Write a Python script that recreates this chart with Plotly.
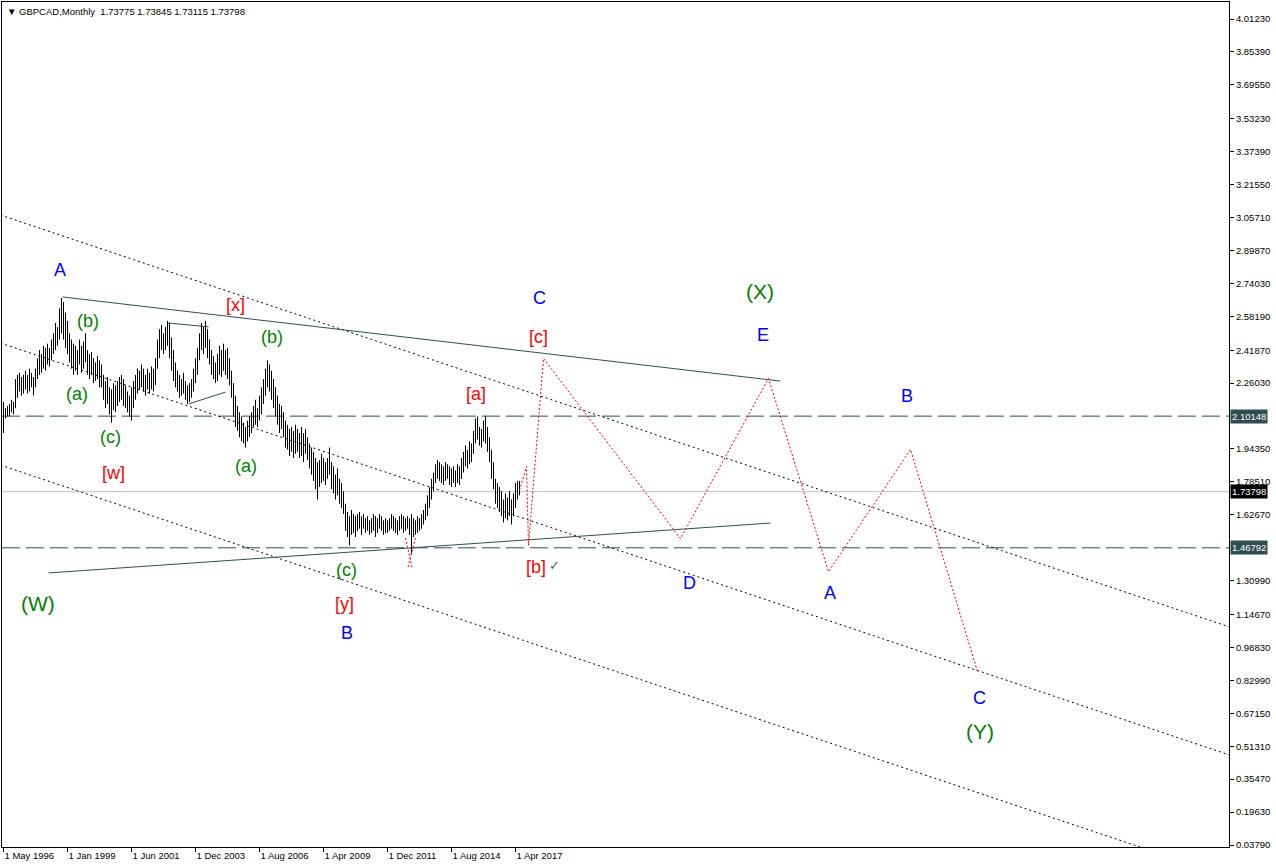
import plotly.graph_objects as go

# ---------------- data ----------------
tick_idx = [0, 32, 64, 96, 128, 160, 192, 224, 256]
tick_text = ["1 May 1996", "1 Jan 1999", "1 Jun 2001", "1 Dec 2003", "1 Aug 2006",
             "1 Apr 2009", "1 Dec 2011", "1 Aug 2014", "1 Apr 2017"]

highs = [
    2.17, 2.14, 2.15, 2.16, 2.18, 2.17, 2.28, 2.30, 2.31, 2.29,
    2.30, 2.32, 2.30, 2.33, 2.31, 2.29, 2.33, 2.38, 2.42, 2.40,
    2.44, 2.43, 2.45, 2.43, 2.47, 2.50, 2.55, 2.53, 2.62, 2.67,
    2.65, 2.60, 2.56, 2.50, 2.47, 2.45, 2.44, 2.42, 2.47, 2.44,
    2.46, 2.50, 2.42, 2.40, 2.41, 2.38, 2.36, 2.39, 2.37, 2.35,
    2.30, 2.27, 2.29, 2.24, 2.23, 2.26, 2.25, 2.27, 2.29, 2.30,
    2.28, 2.25, 2.22, 2.20, 2.24, 2.27, 2.30, 2.33, 2.32, 2.35,
    2.33, 2.30, 2.33, 2.31, 2.34, 2.33, 2.38, 2.47, 2.52, 2.54,
    2.50, 2.53, 2.56, 2.55, 2.48, 2.42, 2.36, 2.32, 2.30, 2.28,
    2.31, 2.27, 2.25, 2.26, 2.28, 2.33, 2.38, 2.43, 2.50, 2.55,
    2.53, 2.56, 2.52, 2.47, 2.42, 2.39, 2.36, 2.40, 2.44, 2.42,
    2.45, 2.42, 2.43, 2.38, 2.32, 2.26, 2.20, 2.15, 2.12, 2.10,
    2.07, 2.05, 2.08, 2.10, 2.12, 2.15, 2.18, 2.14, 2.20, 2.24,
    2.28, 2.33, 2.37, 2.35, 2.32, 2.28, 2.24, 2.20, 2.16, 2.15,
    2.12, 2.08, 2.06, 2.04, 2.05, 2.03, 2.06, 2.04, 2.02, 2.05,
    2.02, 2.04, 2.00, 1.97, 1.95, 1.93, 1.90, 1.88, 1.89, 1.92,
    1.90, 1.88, 1.90, 1.95, 1.88, 1.86, 1.82, 1.85, 1.80, 1.78,
    1.74, 1.68, 1.64, 1.62, 1.65, 1.63, 1.62, 1.63, 1.64, 1.62,
    1.63, 1.61, 1.62, 1.60, 1.61, 1.63, 1.62, 1.61, 1.63, 1.62,
    1.60, 1.61, 1.60, 1.61, 1.63, 1.62, 1.61, 1.60, 1.62, 1.63,
    1.62, 1.61, 1.62, 1.61, 1.63, 1.61, 1.60, 1.62, 1.61, 1.63,
    1.65, 1.68, 1.72, 1.76, 1.80, 1.83, 1.87, 1.89, 1.88, 1.87,
    1.86, 1.88, 1.87, 1.86, 1.85, 1.86, 1.84, 1.87, 1.86, 1.90,
    1.93, 1.96, 1.94, 1.98, 1.97, 2.03, 2.09, 2.10, 2.05, 2.04,
    2.08, 2.10, 2.05, 2.00, 1.94, 1.88, 1.80, 1.78, 1.76, 1.74,
    1.70, 1.73, 1.71, 1.74, 1.70, 1.73, 1.78, 1.79, 1.79,
]
lows = [
    2.02, 2.09, 2.10, 2.10, 2.12, 2.11, 2.14, 2.19, 2.22, 2.20,
    2.21, 2.23, 2.21, 2.22, 2.24, 2.20, 2.24, 2.28, 2.30, 2.31,
    2.33, 2.32, 2.35, 2.34, 2.37, 2.40, 2.42, 2.44, 2.47, 2.50,
    2.47, 2.43, 2.40, 2.36, 2.33, 2.30, 2.32, 2.30, 2.35, 2.31,
    2.33, 2.36, 2.30, 2.28, 2.30, 2.26, 2.27, 2.28, 2.24, 2.24,
    2.18, 2.14, 2.16, 2.11, 2.07, 2.13, 2.12, 2.15, 2.17, 2.18,
    2.15, 2.14, 2.12, 2.10, 2.08, 2.14, 2.18, 2.21, 2.23, 2.24,
    2.22, 2.20, 2.23, 2.21, 2.23, 2.22, 2.25, 2.33, 2.38, 2.42,
    2.40, 2.42, 2.44, 2.38, 2.32, 2.27, 2.24, 2.22, 2.19, 2.20,
    2.21, 2.18, 2.16, 2.17, 2.19, 2.22, 2.26, 2.30, 2.37, 2.42,
    2.40, 2.43, 2.38, 2.35, 2.30, 2.28, 2.26, 2.27, 2.30, 2.29,
    2.32, 2.30, 2.28, 2.25, 2.19, 2.10, 2.05, 2.03, 2.00, 1.98,
    1.97, 1.95, 1.98, 2.00, 2.02, 2.05, 2.06, 2.05, 2.08, 2.11,
    2.16, 2.20, 2.24, 2.22, 2.18, 2.14, 2.10, 2.06, 2.02, 2.04,
    2.00, 1.95, 1.94, 1.91, 1.93, 1.90, 1.92, 1.93, 1.90, 1.91,
    1.88, 1.92, 1.89, 1.85, 1.82, 1.79, 1.75, 1.70, 1.76, 1.78,
    1.79, 1.77, 1.80, 1.82, 1.75, 1.73, 1.70, 1.72, 1.68, 1.66,
    1.63, 1.55, 1.52, 1.48, 1.53, 1.54, 1.52, 1.55, 1.56, 1.53,
    1.56, 1.54, 1.55, 1.53, 1.54, 1.55, 1.52, 1.54, 1.56, 1.55,
    1.53, 1.54, 1.54, 1.55, 1.56, 1.55, 1.54, 1.53, 1.55, 1.56,
    1.54, 1.55, 1.56, 1.53, 1.44, 1.52, 1.53, 1.54, 1.55, 1.56,
    1.58, 1.60, 1.62, 1.66, 1.70, 1.74, 1.78, 1.80, 1.79, 1.78,
    1.77, 1.79, 1.80, 1.77, 1.76, 1.78, 1.76, 1.78, 1.77, 1.80,
    1.83, 1.86, 1.85, 1.87, 1.88, 1.92, 1.97, 1.99, 1.96, 1.95,
    1.98, 1.97, 1.93, 1.88, 1.80, 1.75, 1.68, 1.66, 1.64, 1.62,
    1.59, 1.61, 1.60, 1.62, 1.58, 1.62, 1.66, 1.70, 1.72,
]

price_ticks = [4.0123, 3.8539, 3.6955, 3.5323, 3.3739, 3.2155, 3.0571, 2.8987,
               2.7403, 2.5819, 2.4187, 2.2603, 1.9435, 1.7851, 1.6267, 1.3099,
               1.1467, 0.9883, 0.8299, 0.6715, 0.5131, 0.3547, 0.1963, 0.0379]

level_high = 2.10148
level_low = 1.46792
last_close = 1.73798
header = "GBPCAD,Monthly  1.73775 1.73845 1.73115 1.73798"

# projected wave path (bar index, price)
proj_x = [258, 261.5, 262.5, 270, 338.5, 382.5, 412.5, 453.5, 487]
proj_y = [1.744, 1.859, 1.479, 2.379, 1.512, 2.283, 1.353, 1.941, 0.872]

# small red cross at the 2012 low
cross1_x = [201, 204.5];   cross1_y = [1.515, 1.366]
cross2_x = [206, 202];     cross2_y = [1.515, 1.366]

# dotted channel lines
chan_x = [-1.5, 613]
chan1_y = [3.069, 1.087]
chan2_y = [2.453, 0.471]
chan3_y = [1.866, -0.116]

# solid trend lines
trend_up_x = [29.5, 388.5];   trend_up_y = [2.675, 2.270]
trend_lo_x = [22.5, 383.5];   trend_lo_y = [1.347, 1.587]
tri_top_x = [82, 102.5];      tri_top_y = [2.550, 2.531]
tri_bot_x = [92.5, 111];      tri_bot_y = [2.160, 2.217]

# wave labels: (text, bar index, price, colour, size)
BLUE, GREEN, RED = "#0000FF", "#008000", "#FF0000"
labels = [
    ("A", 28, 2.805, BLUE, 18),
    ("(b)", 42, 2.559, GREEN, 18),
    ("(a)", 36.5, 2.208, GREEN, 18),
    ("(c)", 53.5, 2.001, GREEN, 18),
    ("[w]", 55, 1.828, RED, 18),
    ("(W)", 17, 1.198, GREEN, 21),
    ("[x]", 116, 2.636, RED, 18),
    ("(b)", 134, 2.482, GREEN, 18),
    ("(a)", 121, 1.862, GREEN, 18),
    ("(c)", 171.5, 1.361, GREEN, 18),
    ("[y]", 170.5, 1.198, RED, 18),
    ("B", 171.5, 1.058, BLUE, 18),
    ("[a]", 236, 2.208, RED, 18),
    ("[b]", 266, 1.376, RED, 18),
    ("[c]", 267.5, 2.482, RED, 18),
    ("C", 268, 2.670, BLUE, 18),
    ("(X)", 378, 2.699, GREEN, 21),
    ("E", 379.5, 2.492, BLUE, 18),
    ("B", 451.5, 2.198, BLUE, 18),
    ("D", 343, 1.299, BLUE, 18),
    ("A", 413, 1.250, BLUE, 18),
    ("C", 488, 0.745, BLUE, 18),
    ("(Y)", 488, 0.582, GREEN, 21),
]
check_pos = (275.5, 1.381)

# ---------------- figure ----------------
bx, by = [], []
for i, (h, l) in enumerate(zip(highs, lows)):
    bx += [i, i, None]
    by += [l, h, None]

fig = go.Figure()
DS = "#2F4F4F"
FONT = "Liberation Sans, Arial"

# horizontal levels
for lv in (level_high, level_low):
    fig.add_shape(type="line", xref="paper", x0=0, x1=1, yref="y", y0=lv, y1=lv,
                  line=dict(color=DS, width=1, dash="18px,6px"), layer="below")
fig.add_shape(type="line", xref="paper", x0=0, x1=1, yref="y", y0=last_close, y1=last_close,
              line=dict(color="#C0C0C0", width=1), layer="below")

# channel lines
for cy in (chan1_y, chan2_y, chan3_y):
    fig.add_trace(go.Scatter(x=chan_x, y=cy, mode="lines",
                             line=dict(color="black", width=1, dash="2px,3px"),
                             hoverinfo="skip"))
# trend lines
for tx, ty in ((trend_up_x, trend_up_y), (trend_lo_x, trend_lo_y),
               (tri_top_x, tri_top_y), (tri_bot_x, tri_bot_y)):
    fig.add_trace(go.Scatter(x=tx, y=ty, mode="lines",
                             line=dict(color=DS, width=1), hoverinfo="skip"))

# price bars
fig.add_trace(go.Scatter(x=bx, y=by, mode="lines", line=dict(color="black", width=1),
                         hoverinfo="skip", connectgaps=False))

# projection path
fig.add_trace(go.Scatter(x=proj_x, y=proj_y, mode="lines",
                         line=dict(color="red", width=1, dash="2px,2px"), hoverinfo="skip"))
for cx, cy in ((cross1_x, cross1_y), (cross2_x, cross2_y)):
    fig.add_trace(go.Scatter(x=cx, y=cy, mode="lines",
                             line=dict(color="red", width=1, dash="2px,2px"), hoverinfo="skip"))

# labels
for txt, xi, p, col, sz in labels:
    fig.add_annotation(x=xi, y=p, text=txt, showarrow=False,
                       font=dict(family=FONT, size=sz, color=col),
                       xanchor="center", yanchor="middle")
fig.add_annotation(x=check_pos[0], y=check_pos[1], text="✓", showarrow=False,
                   font=dict(family="DejaVu Sans", size=13, color="#555555"))

# price boxes on the right axis
for lv, bg in ((level_high, DS), (last_close, "black"), (level_low, DS)):
    fig.add_annotation(xref="paper", x=1.0, y=lv, yref="y", text=f"{lv:.5f}",
                       showarrow=False, xanchor="left", yanchor="middle",
                       xshift=1, bgcolor=bg, borderpad=1,
                       font=dict(family=FONT, size=9.5, color="white"))

# header
fig.add_annotation(xref="paper", yref="paper", x=0, y=1, xshift=3, yshift=-2,
                   text="▼ " + header, showarrow=False, xanchor="left", yanchor="top",
                   font=dict(family=FONT, size=9.5, color="black"))

fig.update_layout(
    width=1276, height=868,
    margin=dict(l=2, r=47, t=2, b=21),
    paper_bgcolor="white", plot_bgcolor="white",
    showlegend=False, hovermode=False,
    xaxis=dict(range=[-0.75, 612.75], tickmode="array", tickvals=tick_idx, ticktext=tick_text,
               showgrid=False, zeroline=False, showline=True, linecolor="black", linewidth=1,
               mirror=True, ticks="outside", ticklen=4, tickcolor="black",
               ticklabelposition="outside right", automargin=False,
               tickfont=dict(family=FONT, size=9.5, color="black")),
    yaxis=dict(range=[0.0283, 4.0941], side="right", tickmode="array", tickvals=price_ticks,
               ticktext=[f"{v:.5f}" for v in price_ticks], automargin=False,
               showgrid=False, zeroline=False, showline=True, linecolor="black", linewidth=1,
               mirror=True, ticks="outside", ticklen=4, tickcolor="black",
               tickfont=dict(family=FONT, size=9.5, color="black")),
)

fig.write_html("out.html", config={"displayModeBar": False},
               post_script="document.body.style.margin='0px';document.body.style.overflow='hidden';")
